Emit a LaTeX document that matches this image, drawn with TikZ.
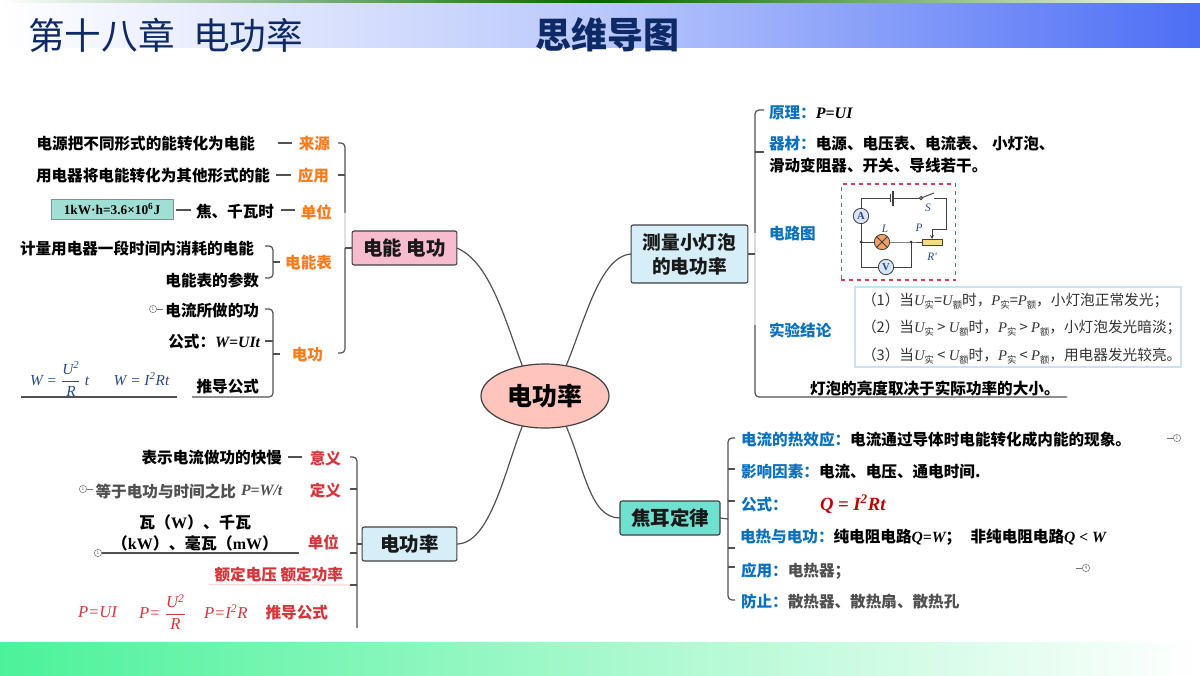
\documentclass[tikz,border=0pt]{standalone}
\usepackage{fontspec}
\setmainfont{Noto Sans CJK SC}
\newfontfamily\tm{Liberation Serif}
\usetikzlibrary{shapes.geometric,arrows.meta}
\definecolor{org}{HTML}{FF7A1A}
\definecolor{rd}{HTML}{D8343C}
\definecolor{blu}{HTML}{0A70C0}
\definecolor{nav}{HTML}{2A4A8A}
\definecolor{gry}{HTML}{505050}
\definecolor{ttl}{HTML}{0E2A66}
\definecolor{mtr}{RGB}{216,228,248}
\definecolor{lmp}{RGB}{240,160,96}
\definecolor{hdm}{RGB}{186,200,252}
\definecolor{hdr}{RGB}{77,110,245}
\definecolor{ftg}{RGB}{76,242,154}
\definecolor{cpk}{RGB}{255,196,188}
\definecolor{mpk}{RGB}{248,188,207}
\definecolor{mbl}{RGB}{213,238,248}
\definecolor{mtl}{RGB}{112,224,208}
\definecolor{bxt}{RGB}{160,224,212}
\definecolor{cbx}{RGB}{204,224,246}
\definecolor{dsh}{RGB}{208,64,80}
\definecolor{rhe}{RGB}{245,220,128}
\definecolor{qrd}{RGB}{192,0,0}
\newcommand{\fr}[2]{$\displaystyle\frac{\hbox{#1}}{\hbox{#2}}$}
\newcommand{\up}[1]{\textsuperscript{#1}}
\newcommand{\sbs}[1]{\raisebox{-0.45ex}{\fontsize{7}{8}\selectfont\mdseries #1}}
\newcommand{\iv}[1]{{\tm\itshape #1}}
\tikzset{
  every node/.style={inner sep=0pt,outer sep=0pt},
  ln/.style={draw=black!68,line width=0.9pt,rounded corners=3pt},
  tb/.style={yshift=-0.75pt,text=black,font=\fontsize{11.7}{14}\selectfont\bfseries},
  tg/.style={yshift=-0.75pt,text=gry,font=\fontsize{11.7}{14}\selectfont\bfseries},
  to/.style={yshift=-0.75pt,text=org,font=\fontsize{11.7}{14}\selectfont\bfseries},
  tr/.style={yshift=-0.75pt,text=rd,font=\fontsize{11.7}{14}\selectfont\bfseries},
  tu/.style={yshift=-0.75pt,text=blu,font=\fontsize{11.7}{14}\selectfont\bfseries},
  tf/.style={text=black!80,font=\fontsize{11}{14}\selectfont},
  mainbox/.style={draw=black!75,line width=0.8pt,rounded corners=1.5pt,align=center,text=black!90,font=\fontsize{14.6}{18}\selectfont\bfseries},
  icn/.style={circle,draw=black!55,line width=0.4pt,minimum size=5.5pt,text=black!60,font=\fontsize{3.5}{4}\selectfont},
  wire/.style={draw=black!75,line width=0.7pt},
  meter/.style={circle,draw=black!75,line width=0.6pt,minimum size=11.5pt,fill=#1},
  cl/.style={text=nav,font=\fontsize{8.5}{9}\selectfont\tm\itshape},
}
\begin{document}
\begin{tikzpicture}[x=0.75pt,y=-0.75pt]
\useasboundingbox (0,0) rectangle (1200,675);
\fill[white] (0,0) rectangle (1200,675);
% header
\shade[left color=white,right color=hdm] (0,2) rectangle (600.5,47);
\shade[left color=hdm,right color=hdr] (600,2) rectangle (1200,47);
\shade[left color=white,right color=green!40!black] (0,0) rectangle (600.5,2);
\shade[left color=green!40!black,right color=white] (600,0) rectangle (1200,2);
\node[anchor=west,text=ttl,font=\fontsize{27.5}{30}\selectfont] (title) at (28,35) {第十八章\hspace{0.5em}电功率};
\node[anchor=west,text=ttl,font=\fontsize{27}{30}\selectfont\bfseries] (mindmap) at (535,35) {思维导图};
% footer
\shade[left color=ftg,right color=white] (0,642) rectangle (1200,675);

% central + main nodes
\node[ellipse,draw=black!75,line width=0.9pt,fill=cpk,minimum width=96pt,minimum height=48pt,font=\fontsize{18.7}{22}\selectfont\bfseries] (c) at (545,396) {电功率};
\node[mainbox,fill=mpk,minimum width=78.5pt,minimum height=25.5pt] (m1) at (404.5,248) {电能 电功};
\node[mainbox,fill=mbl,minimum width=71pt,minimum height=25.5pt] (m2) at (409.5,544) {电功率};
\node[mainbox,fill=mbl,minimum width=87.5pt,minimum height=43.5pt,font=\fontsize{14}{18}\selectfont\bfseries] (m3) at (689.5,254) {测量小灯泡\\的电功率};
\node[mainbox,fill=mtl,minimum width=75pt,minimum height=25.5pt] (m4) at (670,518) {焦耳定律};
\draw[ln] (c.127) .. controls (505,320) and (490,262) .. (m1.east);
\draw[ln] (c.233) .. controls (505,470) and (490,544) .. (m2.east);
\draw[ln] (c.55) .. controls (585,320) and (600,256) .. (m3.west);
\draw[ln] (c.305) .. controls (585,470) and (590,518) .. (m4.west);

% --- top left
\node[tb,anchor=east] (a1) at (255,143) {电源把不同形式的能转化为电能};
\node[to,anchor=east] (l1) at (330,143) {来源};
\node[tb,anchor=east] (a2) at (270,175) {用电器将电能转化为其他形式的能};
\node[to,anchor=east] (l2) at (329,175) {应用};
\node[draw=black!45,fill=bxt,minimum width=91.5pt,minimum height=15pt,font=\fontsize{10}{11}\selectfont\bfseries\tm] (box) at (112,209) {1kW·h=3.6×10\up{6}J};
\node[tb,anchor=east] (a3) at (274,211) {焦、千瓦时};
\node[to,anchor=east] (l3) at (332,211) {单位};
\node[tb,anchor=east] (a4) at (254,247) {计量用电器一段时间内消耗的电能};
\node[tb,anchor=east] (a5) at (259,279) {电能表的参数};
\node[to,anchor=east] (l4) at (332,262) {电能表};
\node[tb,anchor=east] (a6) at (259,310) {电流所做的功};
\node[tb,anchor=east] (a7) at (260,341) {公式：{\tm\itshape\bfseries\fontsize{11.8}{12}\selectfont W=UIt}};
\node[tb,anchor=east] (a8) at (259,386) {推导公式};
\node[to,anchor=east] (l5) at (323,354) {电功};
\node[icn] (i1) at (153,309) {1};
\node[anchor=west,text=nav,font=\fontsize{11.5}{13}\selectfont\tm\itshape] (f1) at (30,379) {W = \fr{U\up{2}}{R} t \hspace{1.1em} W = I\up{2}Rt};
\coordinate (tA) at (345,143); \coordinate (tT) at (345,213); \coordinate (tB) at (345,353); \coordinate (tC) at (338,353);
\coordinate (uA) at (273,246); \coordinate (uB) at (273,278); \coordinate (uC) at (265,278); \coordinate (uD) at (265,246);
\coordinate (vD) at (265,309); \coordinate (vA) at (273,309); \coordinate (vB) at (273,397); \coordinate (vC) at (192,397);
\coordinate (uM) at (273,262); \coordinate (uN) at (280,262); \coordinate (vM) at (273,354); \coordinate (vN) at (273,341); \coordinate (vO) at (265,341); \coordinate (vP) at (280,354);
\coordinate (f1a) at (21,397); \coordinate (f1b) at (177,397);
\coordinate (tL) at (345,248); \coordinate (t2) at (345,175); \coordinate (t2h) at (338,175); \coordinate (t1h) at (338,143);
\coordinate (d1a) at (278,143); \coordinate (d1b) at (292,143);
\coordinate (d2a) at (276,175); \coordinate (d2b) at (291,175);
\coordinate (d3a) at (176,210); \coordinate (d3b) at (191,210);
\coordinate (d4a) at (281,210); \coordinate (d4b) at (295,210);
\draw[ln] (d1a) -- (d1b);
\draw[ln] (d2a) -- (d2b);
\draw[ln] (d3a) -- (d3b);
\draw[ln] (d4a) -- (d4b);
\draw[ln] (t1h) -- (tA) -- (tT);
\draw[draw=black!12,line width=0.9pt] (tT) -- (tL);
\draw[ln] (tL) -- (tB) -- (tC);
\draw[ln] (t2h) -- (t2);
\draw[ln] (m1.west) -- (tL);
\draw[ln] (uD) -- (uA) -- (uB) -- (uC);
\draw[ln] (uM) -- (uN);
\draw[ln] (vD) -- (vA) -- (vB) -- (vC);
\draw[ln] (vO) -- (vN);
\draw[ln] (vM) -- (vP);
\draw[ln] (f1a) -- (f1b);
\draw[draw=black!55,line width=0.4pt] (i1.east) -- ++(6,0);

% --- bottom left
\node[tb,anchor=east] (b1) at (282,457) {表示电流做功的快慢};
\node[tr,anchor=east] (p1) at (341,457) {意义};
\node[tg,anchor=east] (b2) at (236,490) {等于电功与时间之比};
\node[text=gry,anchor=west,font=\fontsize{11.8}{13}\selectfont\tm\itshape\bfseries] (b2f) at (241,490) {P=W/t};
\node[tr,anchor=east] (p2) at (341,490) {定义};
\node[tb,anchor=center,font=\fontsize{12}{14}\selectfont\bfseries] (b3) at (195,521) {瓦（{\tm W}）、千瓦};
\node[tb,anchor=center,font=\fontsize{12}{14}\selectfont\bfseries] (b4) at (195,542) {（{\tm kW}）、毫瓦（{\tm mW}）};
\node[tr,anchor=east] (p3) at (339,541) {单位};
\node[tr,anchor=east] (p4) at (343,574) {额定电压 额定功率};
\node[anchor=west,text=rd,font=\fontsize{12.5}{14}\selectfont\tm\itshape] (f2) at (78,612) {P=UI};
\node[anchor=west,text=rd,font=\fontsize{12.5}{14}\selectfont\tm\itshape] (f3) at (139,612) {P= \fr{U\up{2}}{R}};
\node[anchor=west,text=rd,font=\fontsize{12.5}{14}\selectfont\tm\itshape] (f4) at (204,612) {P=I\up{2}R};
\node[tr,anchor=east] (p5) at (328,612) {推导公式};
\node[icn] (i2) at (83,489) {1};
\node[icn] (i3) at (98,553) {1};
\coordinate (wA) at (357,457); \coordinate (wB) at (357,628); \coordinate (wh) at (350,457);
\coordinate (w2) at (357,489); \coordinate (w3) at (357,553); \coordinate (w4) at (357,585);
\coordinate (w2h) at (350,489); \coordinate (w3h) at (350,553); \coordinate (w4h) at (350,585);
\coordinate (wL) at (357,544); \coordinate (uEnd) at (299,553);
\coordinate (e1a) at (288,457); \coordinate (e1b) at (302,457);
\coordinate (pkA) at (209,584.5);
\draw[ln] (e1a) -- (e1b);
\draw[draw=rd!20,line width=0.9pt] (pkA) -- (w4h);
\draw[ln] (wh) -- (wA) -- (wB);
\draw[ln] (w2h) -- (w2);
\draw[ln] (w3h) -- (w3);
\draw[ln] (w4h) -- (w4);
\draw[ln] (m2.west) -- (wL);
\draw[ln] (i3.east) -- (uEnd);
\draw[draw=black!55,line width=0.4pt] (i2.east) -- ++(6,0);

% --- top right
\node[tu,anchor=west] (r1) at (769,112) {原理：{\tm\itshape\bfseries\fontsize{12}{14}\selectfont\color{black} P=UI}};
\node[tu,anchor=west] (r2) at (769,143) {器材：{\color{black}电源、电压表、电流表、\hspace{0.3em}小灯泡、}};
\node[tb,anchor=west] (r2b) at (769,165) {滑动变阻器、开关、导线若干。};
\node[tu,anchor=west] (r3) at (769,233) {电路图};
\node[tu,anchor=west] (r4) at (769,329) {实验结论};
\node[draw=cbx,line width=0.8pt,fill=white,minimum width=244.5pt,minimum height=60pt] (cbox) at (1018,327) {};
\node[tf,anchor=west] (c1) at (862,301) {（1）当\iv{U}\sbs{实}={\iv{U}}\sbs{额}时，\iv{P}\sbs{实}=\iv{P}\sbs{额}，小灯泡正常发光；};
\node[tf,anchor=west] (c2) at (862,328) {（2）当\iv{U}\sbs{实} > \iv{U}\sbs{额}时，\iv{P}\sbs{实} > \iv{P}\sbs{额}，小灯泡发光暗淡；};
\node[tf,anchor=west] (c3) at (862,356) {（3）当\iv{U}\sbs{实} < \iv{U}\sbs{额}时，\iv{P}\sbs{实} < \iv{P}\sbs{额}，用电器发光较亮。};
\node[tb,anchor=west] (r5) at (810,387) {灯泡的亮度取决于实际功率的大小。};
\coordinate (xA) at (755,110); \coordinate (xB) at (755,397); \coordinate (xC) at (1067,397); \coordinate (xM) at (755,325); \coordinate (xT) at (755,233);
\coordinate (xH1) at (764,110); \coordinate (xH2) at (764,152); \coordinate (x2) at (755,152); \coordinate (xL) at (755,254);
\draw[ln] (xH1) -- (xA) -- (xT);
\draw[ln] (xH2) -- (x2);
\draw[draw=black!14,line width=0.9pt] (xT) -- (xM);
\draw[ln] (xM) -- (xB) -- (xC);
\draw[ln] (m3.east) -- (xL);

% circuit
\node[draw=dsh,dashed,line width=0.9pt,minimum width=86pt,minimum height=72pt] (cd) at (898.5,232) {};
\coordinate (s0) at (921,198); \coordinate (s1) at (934,193); \coordinate (s2) at (934,198);
\coordinate (tl) at (861,198); \coordinate (tr) at (946,198); \coordinate (br) at (946,229); \coordinate (pp) at (932,229);
\coordinate (j1) at (861,242); \coordinate (j2) at (911,242); \coordinate (bl) at (861,267); \coordinate (bb) at (911,267);
\coordinate (bat1) at (890,198); \coordinate (bat2) at (893,198);
\node[meter=mtr,font=\fontsize{8}{9}\selectfont\tm\bfseries,text=nav] (A) at (861,216) {A};
\node[meter=mtr,font=\fontsize{8}{9}\selectfont\tm\bfseries,text=nav] (V) at (886,267) {V};
\node[meter=lmp] (L) at (882,242) {};
\node[draw=black!75,line width=0.6pt,fill=rhe,minimum width=14.5pt,minimum height=4.5pt] (Rh) at (932.5,242) {};
\draw[wire] (A) -- (tl) -- (bat1) (bat2) -- (s0);
\draw[wire] (s0) -- (s1);
\draw[wire] (s2) -- (tr) -- (br) -- (pp);
\draw[wire,-{Stealth[length=3pt,width=3pt]}] (pp) -- (Rh.north -| pp);
\draw[wire] (A) -- (j1) -- (L) -- (j2) -- (Rh);
\draw[wire] (j1) -- (bl) -- (V) -- (bb) -- (j2);
\draw[wire] (bat1) ++(0,-4) -- ++(0,8);
\draw[wire,line width=1pt] (bat2) ++(0,-7.5) -- ++(0,15);
\draw[wire] (L.45) -- (L.225) (L.135) -- (L.315);
\fill[black!80] (j1) circle (1.5) (j2) circle (1.5);
\draw[wire,fill=white] (s0) circle (1.6);
\node[cl] (lL) at (885,229) {L};
\node[cl] (lP) at (919,228) {P};
\node[cl] (lS) at (928,208) {S};
\node[cl] (lR) at (932,257) {R'};

% --- bottom right
\node[tu,anchor=west] (q1) at (741,439) {电流的热效应：{\color{black}电流通过导体时电能转化成内能的现象。}};
\node[tu,anchor=west] (q2) at (741,471) {影响因素：{\color{black}电流、电压、通电时间.}};
\node[tu,anchor=west] (q3) at (741,504) {公式：};
\node[anchor=west,text=qrd,font=\fontsize{14}{16}\selectfont\tm\itshape\bfseries] (q3f) at (820,504) {Q = I\up{2}Rt};
\node[tu,anchor=west] (q4) at (740,536) {电热与电功：{\color{black}纯电阻电路{\tm\itshape Q=W}；\hspace{0.6em}非纯电阻电路{\tm\itshape Q < W}}};
\node[tu,anchor=west] (q5) at (741,570) {应用：{\color{gry}电热器；}};
\node[tu,anchor=west] (q6) at (741,601) {防止：{\color{gry}散热器、散热扇、散热孔}};
\node[icn] (i4) at (1177,438) {1};
\node[icn] (i5) at (1086,568) {4};
\coordinate (yA) at (728,438); \coordinate (yB) at (728,600); \coordinate (yL) at (728,519);
\coordinate (yh1) at (735,438); \coordinate (yh6) at (735,600);
\coordinate (y2) at (728,469); \coordinate (y3) at (728,501); \coordinate (y4) at (728,548); \coordinate (y5) at (728,567);
\coordinate (yh2) at (735,469); \coordinate (yh3) at (735,501); \coordinate (yh4) at (735,548); \coordinate (yh5) at (735,567);
\draw[ln] (yh1) -- (yA) -- (yB) -- (yh6);
\draw[ln] (y2) -- (yh2);
\draw[ln] (y3) -- (yh3);
\draw[ln] (y4) -- (yh4);
\draw[ln] (y5) -- (yh5);
\draw[ln] (m4.east) -- (yL);
\draw[draw=black!55,line width=0.4pt] (i4.west) -- ++(-6,0);
\draw[draw=black!55,line width=0.4pt] (i5.west) -- ++(-6,0);
\end{tikzpicture}
\end{document}
